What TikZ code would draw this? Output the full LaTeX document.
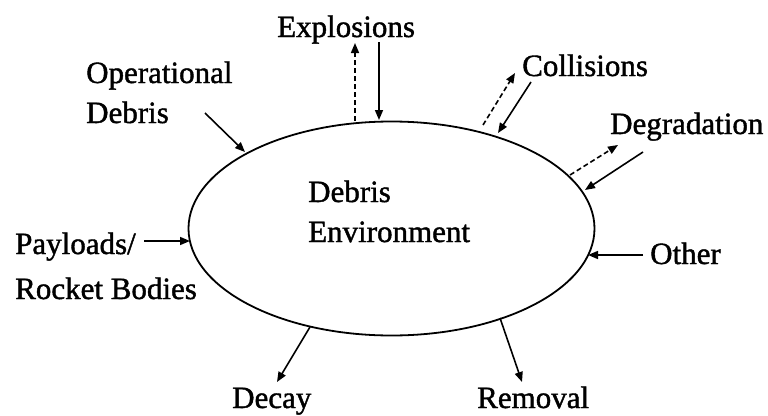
\documentclass[tikz,border=0pt]{standalone}
\usepackage{fontspec}
\setmainfont{Liberation Serif}[FakeBold=1.3]
\usetikzlibrary{arrows.meta,shapes.geometric}
\begin{document}
\begin{tikzpicture}[x=1pt,y=-1pt,
  lbl/.style={anchor=base west, inner sep=0pt, font=\fontsize{31}{36}\selectfont},
  arr/.style={line width=1.6pt, -{Triangle[length=10pt,width=8pt]}},
  darr/.style={arr, dash pattern=on 5pt off 3pt},
  envbox/.style={draw, line width=1.8pt, ellipse, minimum width=406pt, minimum height=214pt, inner sep=0pt}
]
\useasboundingbox (0,0) rectangle (768,415);
% central ellipse
\node[envbox] (env) at (391.5,228.5) {};
\node[lbl] (envA) at (308,202) {Debris};
\node[lbl] (envB) at (308,242) {Environment};
% labels
\node[lbl] (opA) at (86,83) {Operational};
\node[lbl] (opB) at (86,123) {Debris};
\node[lbl] (expl) at (277,37) {Explosions};
\node[lbl] (coll) at (522,76) {Collisions};
\node[lbl] (degr) at (610,134) {Degradation};
\node[lbl] (other) at (650,264) {Other};
\node[lbl] (payA) at (15,254) {Payloads/};
\node[lbl] (payB) at (15,299) {Rocket Bodies};
\node[lbl] (decay) at (232,408) {Decay};
\node[lbl] (remov) at (477,408) {Removal};
% connector end points
\coordinate (opS) at (205,113);   \coordinate (opE) at (245,152);
\coordinate (exDS) at (355,121);  \coordinate (exDE) at (355,43);
\coordinate (exS) at (379,42);    \coordinate (exE) at (379,120);
\coordinate (coDS) at (483,125);  \coordinate (coDE) at (515,73);
\coordinate (coS) at (531,82);    \coordinate (coE) at (498,133);
\coordinate (deDS) at (570,175);  \coordinate (deDE) at (618,145);
\coordinate (deS) at (643,152);   \coordinate (deE) at (585,190);
\coordinate (otS) at (643,255);   \coordinate (otE) at (588,255);
\coordinate (paS) at (144,241);   \coordinate (paE) at (190,241);
\coordinate (dcS) at (310,327);   \coordinate (dcE) at (277,382);
\coordinate (rmS) at (500,318);   \coordinate (rmE) at (522,382);
% connectors
\draw[arr] (opS) -- (opE);
\draw[darr] (exDS) -- (exDE);
\draw[arr] (exS) -- (exE);
\draw[darr] (coDS) -- (coDE);
\draw[arr] (coS) -- (coE);
\draw[darr] (deDS) -- (deDE);
\draw[arr] (deS) -- (deE);
\draw[arr] (otS) -- (otE);
\draw[arr] (paS) -- (paE);
\draw[arr] (dcS) -- (dcE);
\draw[arr] (rmS) -- (rmE);
\end{tikzpicture}
\end{document}
